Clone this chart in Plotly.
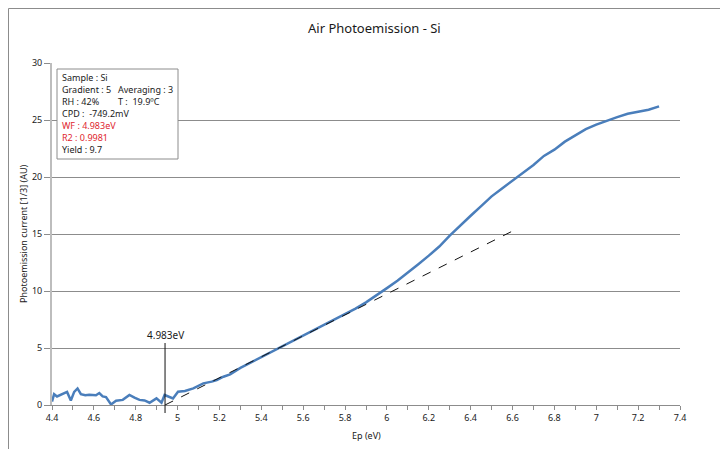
import plotly.graph_objects as go

# Measured photoemission curve (Ep in eV, current in AU)
ep = [4.400, 4.410, 4.424, 4.448, 4.472, 4.490, 4.506, 4.522, 4.538, 4.559,
      4.578, 4.610, 4.626, 4.642, 4.658, 4.682, 4.706, 4.738, 4.770, 4.794,
      4.818, 4.842, 4.866, 4.899, 4.923, 4.938, 4.962, 4.978, 5.002, 5.035,
      5.075, 5.123, 5.163, 5.187, 5.219, 5.251, 5.30, 5.35, 5.40, 5.45,
      5.50, 5.55, 5.60, 5.65, 5.70, 5.75, 5.80, 5.85, 5.90, 5.95,
      6.00, 6.05, 6.10, 6.15, 6.20, 6.25, 6.30, 6.35, 6.40, 6.45,
      6.50, 6.55, 6.60, 6.65, 6.70, 6.75, 6.80, 6.85, 6.90, 6.95,
      7.00, 7.05, 7.10, 7.15, 7.20, 7.25, 7.30]
current = [0.30, 0.95, 0.75, 0.95, 1.15, 0.40, 1.15, 1.45, 0.95, 0.85,
           0.90, 0.85, 1.05, 0.75, 0.70, 0.05, 0.38, 0.45, 0.88, 0.65,
           0.45, 0.40, 0.20, 0.58, 0.20, 0.88, 0.73, 0.58, 1.17, 1.23,
           1.46, 1.90, 2.05, 2.19, 2.48, 2.69, 3.25, 3.72, 4.20, 4.65,
           5.12, 5.58, 6.05, 6.52, 6.98, 7.45, 7.95, 8.45, 9.00, 9.60,
           10.25, 10.90, 11.60, 12.35, 13.10, 13.90, 14.85, 15.75, 16.60, 17.45,
           18.30, 19.00, 19.70, 20.40, 21.05, 21.85, 22.40, 23.10, 23.65, 24.20,
           24.60, 24.95, 25.25, 25.55, 25.75, 25.90, 26.20]

# Linear fit (threshold extrapolation)
fit_x = [4.94, 6.61]
fit_y = [0.0, 15.35]
threshold_x = 4.94
threshold_label = "4.983eV"

info_lines = ["Sample : Si", "Gradient : 5", "RH : 42%", "CPD :  -749.2mV",
              "WF : 4.983eV", "R2 : 0.9981", "Yield : 9.7"]
info_colors = ["#1a1a1a", "#1a1a1a", "#1a1a1a", "#1a1a1a", "#e0262e", "#e0262e", "#1a1a1a"]
info_col2 = ["Averaging : 3", "T :  19.9\u00baC"]

x_ticks = [4.4, 4.6, 4.8, 5.0, 5.2, 5.4, 5.6, 5.8, 6.0, 6.2, 6.4, 6.6, 6.8, 7.0, 7.2, 7.4]
y_ticks = [0, 5, 10, 15, 20, 25, 30]

FONT = "Noto Sans"
OFF = 8                      # page body margin offset
W, H = 720, 441              # figure size (page minus body margin)
L, T = 52 - OFF, 63 - OFF    # plot area in figure coords
PR, PB = 680 - OFF, 405 - OFF
R, B = W - PR, H - PB
pw, ph = W - L - R, H - T - B

def px(xs):
    """screen x pixel -> paper fraction"""
    return (xs - OFF - L) / pw

def py(ys):
    """screen y pixel -> paper fraction"""
    return (PB - (ys - OFF)) / ph

fig = go.Figure()
fig.add_trace(go.Scatter(x=ep, y=current, mode="lines",
                         line=dict(color="#4a7ebb", width=2.5), showlegend=False))
fig.add_trace(go.Scatter(x=fit_x, y=fit_y, mode="lines",
                         line=dict(color="#111111", width=1, dash="dash"), showlegend=False))

shapes = []
# outer chart frame
shapes.append(dict(type="rect", xref="paper", yref="paper",
                   x0=px(8.5), x1=px(760), y0=py(470), y1=py(8.5),
                   line=dict(color="#8c8c8c", width=1), layer="below"))
# info box
shapes.append(dict(type="rect", xref="paper", yref="paper",
                   x0=px(57), x1=px(178), y0=py(159), y1=py(69),
                   line=dict(color="#8c8c8c", width=1), fillcolor="white", layer="above"))
# threshold vertical line
shapes.append(dict(type="line", xref="x", yref="paper",
                   x0=threshold_x, x1=threshold_x, y0=py(413), y1=py(343),
                   line=dict(color="#111111", width=1)))

annotations = []
line_y = [77, 89, 101, 113, 125, 137, 149]
for txt, col, yy in zip(info_lines, info_colors, line_y):
    annotations.append(dict(text=txt, xref="paper", yref="paper", x=px(60), y=py(yy),
                            xanchor="left", yanchor="middle", showarrow=False,
                            font=dict(family=FONT, size=9, color=col)))
for txt, yy in zip(info_col2, line_y[1:3]):
    annotations.append(dict(text=txt, xref="paper", yref="paper", x=px(116), y=py(yy),
                            xanchor="left", yanchor="middle", showarrow=False,
                            font=dict(family=FONT, size=9, color="#1a1a1a")))
annotations.append(dict(text=threshold_label, xref="x", yref="paper", x=threshold_x, y=py(335),
                        xanchor="center", yanchor="middle", showarrow=False,
                        font=dict(family=FONT, size=10, color="#1a1a1a")))
annotations.append(dict(text="Air Photoemission - Si", xref="paper", yref="paper",
                        x=px(374), y=py(28), xanchor="center", yanchor="middle",
                        showarrow=False, font=dict(family=FONT, size=13, color="#1a1a1a")))
annotations.append(dict(text="Photoemission current [1/3] (AU)", xref="paper", yref="paper",
                        x=px(23), y=py(234), xanchor="center", yanchor="middle", textangle=-90,
                        showarrow=False, font=dict(family=FONT, size=9, color="#1a1a1a")))
annotations.append(dict(text="Ep (eV)", xref="paper", yref="paper",
                        x=px(366), y=py(436), xanchor="center", yanchor="middle",
                        showarrow=False, font=dict(family=FONT, size=9, color="#1a1a1a")))

fig.update_layout(
    width=W, height=H,
    margin=dict(l=L, r=R, t=T, b=B, autoexpand=False),
    paper_bgcolor="white", plot_bgcolor="white",
    shapes=shapes, annotations=annotations,
    xaxis=dict(range=[4.4, 7.4], tickvals=x_ticks, ticks="outside", ticklen=4,
               tickcolor="#8c8c8c", showgrid=False, zeroline=False,
               showline=True, linecolor="#8c8c8c", linewidth=1, automargin=False,
               minor=dict(dtick=0.1, tick0=4.4, ticks="outside", ticklen=4, tickcolor="#8c8c8c"),
               tickfont=dict(family=FONT, size=9, color="#1a1a1a")),
    yaxis=dict(range=[0, 30], tickvals=y_ticks, ticks="outside", ticklen=6,
               tickcolor="#8c8c8c", showgrid=True, gridcolor="#8c8c8c", gridwidth=1,
               zeroline=False, showline=True, linecolor="#bdbdbd", linewidth=2, automargin=False,
               tickfont=dict(family=FONT, size=9, color="#1a1a1a")),
)

fig.write_html("out.html")
